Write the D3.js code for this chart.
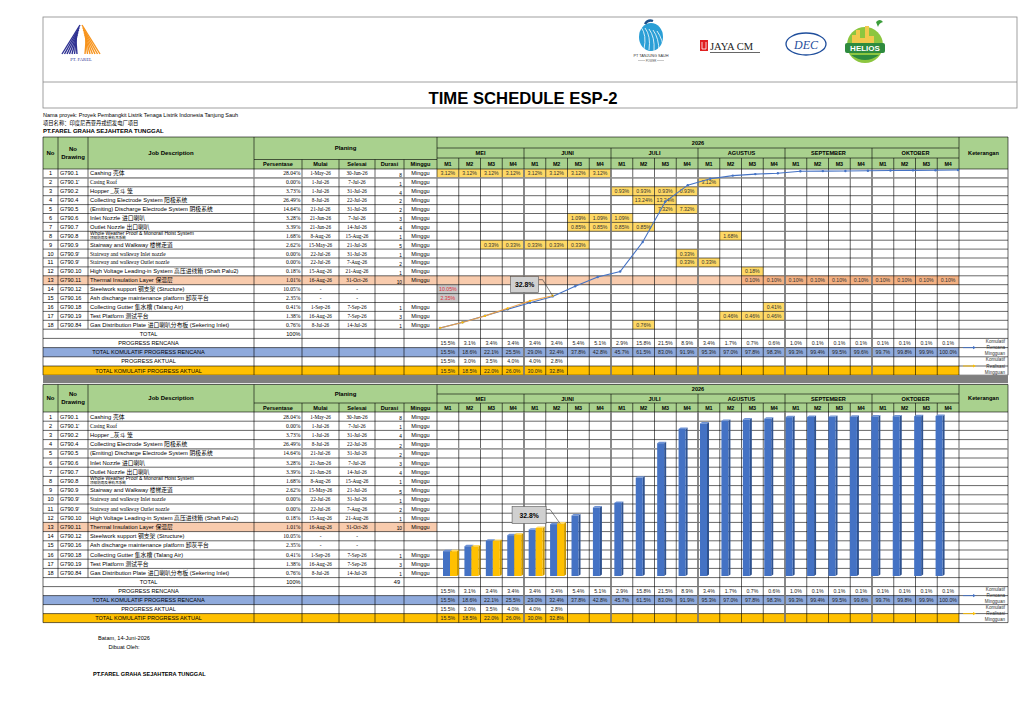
<!DOCTYPE html>
<html>
<head>
<meta charset="utf-8">
<script src="https://cdn.jsdelivr.net/npm/d3@7"></script>
<style>
  body { margin: 0; background: #fff; }
  svg { display: block; }
</style>
</head>
<body>
<div id="chart"></div>
<script>
// ---- data ----
const months = ["MEI", "JUNI", "JULI", "AGUSTUS", "SEPTEMBER", "OKTOBER"];
const weekLabels = ["M1", "M2", "M3", "M4"];
const weeks = months.flatMap(m => weekLabels.map(w => m + " " + w));

const drawingNo = ["G790.1", "G790.1'", "G790.2", "G790.4", "G790.5", "G790.6", "G790.7", "G790.8", "G790.9",
  "G790.9'", "G790.9'", "G790.10", "G790.11", "G790.12", "G790.16", "G790.18", "G790.19", "G790.84"];
const jobDesc = [
  "Cashing 壳体",
  "Casing Roof",
  "Hopper _灰斗 笼",
  "Collecting Electrode System 阳极系统",
  "(Emiting) Discharge Electrode System 阴极系统",
  "Inlet Nozzle 进口喇叭",
  "Outlet Nozzle 出口喇叭",
  "Whole Weather Proof & Monorail Hoist System\n顶部防雨及单轨吊系统",
  "Stairway and Walkway 楼梯走道",
  "Stairway and walkway Inlet nozzle",
  "Stairway and walkway Outlet nozzle",
  "High Voltage Leading-in System 高压进线箱 (Shaft Palu2)",
  "Thermal Insulation Layer 保温层",
  "Steelwork support 钢支架 (Structure)",
  "Ash discharge maintenance platform 卸灰平台",
  "Collecting Gutter 集水槽 (Talang Air)",
  "Test Platform 测试平台",
  "Gas Distribution Plate 进口喇叭分布板 (Sekering Inlet)"
];
const persentase = ["28.04%", "0.00%", "3.73%", "26.49%", "14.64%", "3.28%", "3.39%", "1.68%", "2.62%",
  "0.00%", "0.00%", "0.18%", "1.01%", "10.05%", "2.35%", "0.41%", "1.38%", "0.76%"];
const mulai = ["1-May-26", "1-Jul-26", "1-Jul-26", "8-Jul-26", "21-Jul-26", "21-Jun-26", "21-Jun-26", "8-Aug-26",
  "15-May-26", "22-Jul-26", "22-Jul-26", "15-Aug-26", "16-Aug-26", "-", "-", "1-Sep-26", "16-Aug-26", "8-Jul-26"];
const selesai = ["30-Jun-26", "7-Jul-26", "31-Jul-26", "22-Jul-26", "31-Jul-26", "7-Jul-26", "14-Jul-26", "15-Aug-26",
  "21-Jul-26", "31-Jul-26", "7-Aug-26", "21-Aug-26", "31-Oct-26", "-", "-", "7-Sep-26", "7-Sep-26", "14-Jul-26"];
const durasi = [8, 1, 4, 2, 2, 3, 4, 1, 5, 1, 2, 1, 10, "", "", 1, 3, 1];
const minggu = ["Minggu", "Minggu", "Minggu", "Minggu", "Minggu", "Minggu", "Minggu", "Minggu", "Minggu",
  "Minggu", "Minggu", "Minggu", "Minggu", "", "", "Minggu", "Minggu", "Minggu"];

// week index (0 = MEI M1) of every filled bar cell, per job row
const ganttWeeks = [
  [0, 1, 2, 3, 4, 5, 6, 7], [12], [8, 9, 10, 11], [9, 10], [10, 11], [6, 7, 8], [6, 7, 8, 9], [13],
  [2, 3, 4, 5, 6], [11], [11, 12], [14], [14, 15, 16, 17, 18, 19, 20, 21, 22, 23], [0], [0], [15], [13, 14, 15], [9]
];
const ganttValue = ["3.12%", "3.12%", "0.93%", "13.24%", "7.32%", "1.09%", "0.85%", "1.68%", "0.33%",
  "0.33%", "0.33%", "0.18%", "0.10%", "10.05%", "2.35%", "0.41%", "0.46%", "0.76%"];

const summaryLabels = ["TOTAL", "PROGRESS RENCANA", "TOTAL KOMULATIF PROGRESS RENCANA", "PROGRESS AKTUAL",
  "TOTAL KOMULATIF PROGRESS AKTUAL"];
const progressRencana = [15.5, 3.1, 3.4, 3.4, 3.4, 3.4, 5.4, 5.1, 2.9, 15.8, 21.5, 8.9, 3.4, 1.7, 0.7, 0.6, 1.0,
  0.1, 0.1, 0.1, 0.1, 0.1, 0.1, 0.1];
const kumulatifRencana = [15.5, 18.6, 22.1, 25.5, 29.0, 32.4, 37.8, 42.8, 45.7, 61.5, 83.0, 91.9, 95.3, 97.0, 97.8,
  98.3, 99.3, 99.4, 99.5, 99.6, 99.7, 99.8, 99.9, 100.0];
const progressAktual = [15.5, 3.0, 3.5, 4.0, 4.0, 2.8];
const kumulatifAktual = [15.5, 18.5, 22.0, 26.0, 30.0, 32.8];

// ---- setup ----
const SANS = "'Liberation Sans', Arial, 'Noto Sans CJK SC', sans-serif";
const SERIF = "'Liberation Serif', 'Times New Roman', 'Noto Sans CJK SC', serif";
const GREEN = "#a9d18e", ORANGE = "#f8cbad", BLUE = "#8faadc", GOLD = "#ffc000", CELL = "#ffd966";
const colX = [43, 58, 88, 254, 302, 339, 375, 404, 437];
const X_W0 = 437, X_W1 = 959, X_END = 1008;
const serifRows = new Set([1, 9, 10]);
const pct = d3.format(".1f");

const svg = d3.select("#chart").append("svg")
  .attr("width", 1024).attr("height", 724)
  .style("font-family", SANS);

const x = d3.scaleBand().domain(weeks).range([X_W0, X_W1]);

function txt(g, tx, ty, s, o = {}) {
  return g.append("text")
    .attr("x", tx).attr("y", ty).text(s)
    .attr("font-size", o.size || 6)
    .attr("font-weight", o.bold ? "bold" : null)
    .attr("font-style", o.italic ? "italic" : null)
    .attr("text-anchor", o.anchor || "start")
    .attr("fill", o.fill || "#000")
    .attr("font-family", o.font || SANS)
    .attr("dominant-baseline", "central");
}
function ln(g, x1, y1, x2, y2, c, w) {
  g.append("line").attr("x1", x1).attr("y1", y1).attr("x2", x2).attr("y2", y2)
    .attr("stroke", c || "#000").attr("stroke-width", w || 0.6);
}

// ---- page header with logos ----
function drawHeader() {
  const g = svg.append("g");
  g.append("rect").attr("x", 43).attr("y", 17).attr("width", 974).attr("height", 91)
    .attr("fill", "none").attr("stroke", "#888").attr("stroke-width", 0.8);
  ln(g, 43, 82, 1017, 82, "#888", 0.8);
  txt(g, 523, 98, "TIME SCHEDULE ESP-2", { size: 17, bold: true, anchor: "middle",
    font: "'Liberation Sans Narrow', 'Liberation Sans', Arial, sans-serif" })
    .attr("textLength", 189).attr("lengthAdjust", "spacingAndGlyphs");

  // PT. FAREL mark
  const f = g.append("g");
  for (let i = 0; i < 7; i++) {
    f.append("line").attr("x1", 80 - i * 0.7).attr("y1", 25 + i * 2.4)
      .attr("x2", 62 + i * 2.5).attr("y2", 54)
      .attr("stroke", "#2e3192").attr("stroke-width", 1.4);
    f.append("line").attr("x1", 82 + i * 0.7).attr("y1", 25 + i * 2.4)
      .attr("x2", 100 - i * 2.5).attr("y2", 54)
      .attr("stroke", "#f7941d").attr("stroke-width", 1.4);
  }
  txt(f, 81, 59, "PT. FAREL", { size: 4.6, anchor: "middle", font: SERIF, fill: "#2e3192" });

  // PT Tanjung Sauh
  const t = g.append("g");
  t.append("ellipse").attr("cx", 651).attr("cy", 37).attr("rx", 12).attr("ry", 14).attr("fill", "#2a9fd6");
  for (let i = 0; i < 5; i++) {
    t.append("path").attr("d", `M${641 + i * 4},${27 + i} q6,8 ${3 + i},22`)
      .attr("fill", "none").attr("stroke", "#fff").attr("stroke-width", 0.8);
  }
  t.append("path").attr("d", "M645,24 q3,-5 8,-3").attr("fill", "none").attr("stroke", "#1a4f8a").attr("stroke-width", 2.4);
  txt(t, 651, 56, "PT TANJUNG SAUH", { size: 3.8, anchor: "middle", fill: "#333" });
  txt(t, 651, 60.5, "POWER", { size: 2.8, anchor: "middle", fill: "#555" });
  ln(t, 638, 60.5, 645, 60.5, "#777", 0.4);
  ln(t, 657, 60.5, 664, 60.5, "#777", 0.4);

  // JAYA CM
  const j = g.append("g");
  j.append("rect").attr("x", 700).attr("y", 40).attr("width", 8).attr("height", 11).attr("fill", "#e02020");
  j.append("path").attr("d", "M702,42 v7 h4 v-7").attr("fill", "none").attr("stroke", "#fff").attr("stroke-width", 0.8);
  txt(j, 710, 46, "JAYA CM", { size: 10.5, font: SERIF, fill: "#222" });
  ln(j, 710, 52.5, 760, 52.5, "#666", 1);

  // DEC
  const d = g.append("g");
  d.append("ellipse").attr("cx", 806).attr("cy", 44).attr("rx", 20).attr("ry", 11)
    .attr("fill", "none").attr("stroke", "#1f4e9c").attr("stroke-width", 1.3);
  txt(d, 806, 44.5, "DEC", { size: 12, anchor: "middle", font: SERIF, italic: true, fill: "#1f4e9c" });

  // HELIOS
  const h = g.append("g");
  h.append("circle").attr("cx", 865).attr("cy", 45).attr("r", 18).attr("fill", "#8cc63f");
  h.append("path").attr("d", "M852,45 v-10 h4 v-5 h4 v8 h5 v-12 h4 v10 h5 v9 z").attr("fill", "#f2c94c");
  h.append("path").attr("d", "M876,22 q4,-4 7,0 q-4,1 -5,5 z").attr("fill", "#3a9d3a");
  h.append("rect").attr("x", 845).attr("y", 43).attr("width", 40).attr("height", 10).attr("rx", 2).attr("fill", "#2e8b3e");
  txt(h, 865, 48.3, "HELIOS", { size: 8, bold: true, anchor: "middle", fill: "#fff" });
  h.append("path").attr("d", "M851,55 q14,10 28,0").attr("fill", "#2e8b3e");

  // project lines
  txt(g, 43, 115, "Nama proyek: Proyek Pembangkit Listrik Tenaga Listrik Indonesia Tanjung Sauh", { size: 5.5 });
  txt(g, 43, 123, "项目名称：印度尼西亚丹戎绍发电厂项目", { size: 5.3 });
  txt(g, 43, 131, "PT.FAREL GRAHA SEJAHTERA TUNGGAL", { size: 6, bold: true });
}

// ---- one schedule table ----
function drawTable(cfg) {
  const g = svg.append("g");
  const t = cfg.top;
  const yYear = t + cfg.yearH, yMonth = yYear + cfg.monthH, hb = yMonth + cfg.wkH;
  const yPlan = cfg.planBot;
  const rowY = i => hb + i * cfg.rowH;
  const dataBot = rowY(18);
  const sumY = k => dataBot + k * cfg.sumH;
  const bot = sumY(5);

  // fills
  g.append("rect").attr("x", 43).attr("y", t).attr("width", X_END - 43).attr("height", hb - t).attr("fill", GREEN);
  g.append("rect").attr("x", 43).attr("y", rowY(12)).attr("width", cfg.orangeTo - 43).attr("height", cfg.rowH).attr("fill", ORANGE);
  g.append("rect").attr("x", 43).attr("y", sumY(2)).attr("width", X_W1 - 43).attr("height", cfg.sumH).attr("fill", BLUE);
  g.append("rect").attr("x", 43).attr("y", sumY(4)).attr("width", X_W1 - 43).attr("height", cfg.sumH).attr("fill", GOLD);

  if (cfg.gantt) {
    ganttWeeks.forEach((ws, i) => ws.forEach(k => {
      const fill = i === 12 ? "#f4b183" : (i === 13 || i === 14) ? "#c9c9c9" : CELL;
      g.append("rect").attr("x", x(weeks[k])).attr("y", rowY(i))
        .attr("width", x.bandwidth()).attr("height", cfg.rowH).attr("fill", fill);
    }));
  }

  // grid
  const grid = g.append("g");
  ln(grid, 43, t, X_END, t);
  ln(grid, colX[3], yPlan, X_W0, yPlan);
  ln(grid, X_W0, yYear, X_W1, yYear);
  ln(grid, X_W0, yMonth, X_W1, yMonth);
  for (let i = 0; i <= 18; i++) ln(grid, 43, rowY(i), X_END, rowY(i));
  for (let k = 1; k <= 5; k++) ln(grid, 43, sumY(k), X_END, sumY(k));
  ln(grid, 43, t, 43, bot);
  ln(grid, colX[1], t, colX[1], dataBot);
  ln(grid, colX[2], t, colX[2], dataBot);
  ln(grid, colX[3], t, colX[3], bot);
  [4, 5, 6, 7].forEach(c => ln(grid, colX[c], yPlan, colX[c], bot));
  ln(grid, X_W0, t, X_W0, bot);
  ln(grid, X_W1, t, X_W1, bot);
  ln(grid, X_END, t, X_END, bot);
  weeks.forEach((w, k) => {
    if (k > 0) ln(grid, x(w), k % 4 === 0 ? yYear : yMonth, x(w), bot);
  });
  months.forEach((m, mi) => {
    if (mi > 0) ln(grid, x(weeks[mi * 4]), hb, x(weeks[mi * 4]), bot, "#7f7f7f", 1.6);
  });
  ln(grid, 43, cfg.grayAt(rowY), X_END, cfg.grayAt(rowY), "#9a9a9a", 1.4);

  // header text
  const hm = (t + hb) / 2;
  txt(g, 50.5, hm, "No", { bold: true, anchor: "middle" });
  txt(g, 73, hm - 4, "No", { bold: true, anchor: "middle" });
  txt(g, 73, hm + 3.5, "Drawing", { bold: true, anchor: "middle" });
  txt(g, 171, hm, "Job Description", { bold: true, anchor: "middle" });
  txt(g, 345.5, (t + yPlan) / 2, "Planing", { bold: true, anchor: "middle" });
  ["Persentase", "Mulai", "Selesai", "Durasi", "Minggu"].forEach((s, c) =>
    txt(g, (colX[3 + c] + colX[4 + c]) / 2, (yPlan + hb) / 2, s, { bold: true, anchor: "middle", size: 5.6 }));
  txt(g, (X_W0 + X_W1) / 2, (t + yYear) / 2, "2026", { bold: true, anchor: "middle", size: 5.6 });
  months.forEach((m, mi) => {
    const x0 = x(weeks[mi * 4]), x1 = x(weeks[mi * 4 + 3]) + x.bandwidth();
    txt(g, (x0 + x1) / 2, (yYear + yMonth) / 2, m, { bold: true, anchor: "middle", size: 5.6 });
  });
  weeks.forEach((w, k) =>
    txt(g, x(w) + x.bandwidth() / 2, (yMonth + hb) / 2, weekLabels[k % 4], { bold: true, anchor: "middle", size: 5.4 }));
  txt(g, (X_W1 + X_END) / 2, hm, "Keterangan", { bold: true, anchor: "middle", size: 5.6 });

  // job rows
  drawingNo.forEach((dn, i) => {
    const cy = rowY(i) + cfg.rowH / 2;
    const fnt = serifRows.has(i) ? SERIF : SANS;
    txt(g, 50.5, cy, i + 1, { anchor: "middle", size: 5.6 });
    txt(g, 60, cy, dn, { size: 5.6 });
    const parts = jobDesc[i].split("\n");
    if (parts.length > 1) {
      txt(g, 90, cy - 2.6, parts[0], { size: 5 });
      txt(g, 90, cy + 2.4, parts[1], { size: 3.6 });
    } else {
      txt(g, 90, cy, parts[0], { size: serifRows.has(i) ? 5.4 : 5.8, font: fnt });
    }
    txt(g, 300.5, cy, persentase[i], { anchor: "end", size: 5.6, font: SERIF });
    txt(g, 320.5, cy, mulai[i], { anchor: "middle", size: 5.2, font: SERIF });
    txt(g, 357, cy, selesai[i], { anchor: "middle", size: 5.2, font: SERIF });
    txt(g, 402, cy + 1.8, durasi[i], { anchor: "end", size: 4.8 });
    txt(g, 420.5, cy, minggu[i], { anchor: "middle", size: 5.6 });
    if (cfg.gantt) {
      ganttWeeks[i].forEach(k => {
        const red = i === 13 || i === 14;
        txt(g, x(weeks[k]) + x.bandwidth() / 2, cy, ganttValue[i],
          { anchor: "middle", size: 5.2, fill: red ? "#e0303a" : "#333" });
      });
    }
  });

  // summary rows
  summaryLabels.forEach((s, k) => txt(g, 148.5, sumY(k) + cfg.sumH / 2, s, { anchor: "middle", size: 5.6 }));
  txt(g, 300.5, sumY(0) + cfg.sumH / 2, "100%", { anchor: "end", size: 5.6 });
  if (cfg.totalDur) txt(g, 400, sumY(0) + cfg.sumH / 2, cfg.totalDur, { anchor: "end", size: 5.6 });
  [progressRencana, kumulatifRencana, progressAktual, kumulatifAktual].forEach((arr, k) => {
    arr.forEach((v, wi) => txt(g, x(weeks[wi]) + x.bandwidth() / 2, sumY(k + 1) + cfg.sumH / 2, pct(v) + "%",
      { anchor: "middle", size: 5.2, fill: "#222" }));
  });

  // keterangan legend
  const lg = g.append("g");
  const arrow = (ay, c) => {
    ln(lg, 963, ay, 973, ay, c, 0.9);
    lg.append("path").attr("d", `M973,${ay - 1.6} L976,${ay} L973,${ay + 1.6} z`).attr("fill", c);
  };
  arrow(sumY(2), "#4472c4");
  arrow(sumY(4), "#ffc000");
  const step = (2 * cfg.sumH) / 3;
  ["Komulatif", "Rencana", "Mingguan"].forEach((s, n) =>
    txt(lg, 1005, sumY(1) + step / 2 + n * step, s, { anchor: "end", size: 4.6, fill: "#333" }));
  ["Komulatif", "Realisasi", "Mingguan"].forEach((s, n) =>
    txt(lg, 1005, sumY(3) + step / 2 + n * step, s, { anchor: "end", size: 4.6, fill: "#333" }));

  return { bot };
}

drawHeader();

const upper = drawTable({
  top: 137, yearH: 11, monthH: 10, wkH: 11, planBot: 159.5,
  rowH: 8.9, sumH: 9.2, orangeTo: X_W1, gantt: true,
  grayAt: rowY => rowY(1)
});

// gray band between the two tables
svg.append("rect").attr("x", 43).attr("y", upper.bot).attr("width", X_END - 43).attr("height", 8).attr("fill", "#7f7f7f");

drawTable({
  top: 384.5, yearH: 9.5, monthH: 9, wkH: 9, planBot: 403,
  rowH: 9.2, sumH: 9, orangeTo: X_W0, gantt: false, totalDur: 49,
  grayAt: rowY => rowY(4)
});

// ---- S-curve over the upper table ----
const xLine = d3.scalePoint().domain(weeks).range([440, 958]);
const yLine = d3.scaleLinear().domain([0, 100]).range([357, 170]);
const line = d3.line().x((d, i) => xLine(weeks[i])).y(d => yLine(d));
const sc = svg.append("g");
sc.append("path").attr("d", line(kumulatifRencana)).attr("fill", "none")
  .attr("stroke", "#4472c4").attr("stroke-width", 1.1);
sc.selectAll("circle.plan").data(kumulatifRencana).join("circle").attr("class", "plan")
  .attr("cx", (d, i) => xLine(weeks[i])).attr("cy", d => yLine(d)).attr("r", 1.2).attr("fill", "#4472c4");
sc.append("path").attr("d", line(kumulatifAktual)).attr("fill", "none")
  .attr("stroke", "#f0a040").attr("stroke-width", 1.1).attr("opacity", 0.9);
sc.selectAll("circle.act").data(kumulatifAktual).join("circle").attr("class", "act")
  .attr("cx", (d, i) => xLine(weeks[i])).attr("cy", d => yLine(d)).attr("r", 1.1).attr("fill", "#ffc000");

function callout(g, px, py, bx, by, bw, bh, s) {
  g.append("path").attr("d", `M${bx + bw},${by + 3} L${bx + bw + 4},${by + 3} L${px},${py}`)
    .attr("fill", "none").attr("stroke", "#333").attr("stroke-width", 0.6);
  g.append("rect").attr("x", bx).attr("y", by).attr("width", bw).attr("height", bh)
    .attr("fill", "#d0d0d0").attr("stroke", "#555").attr("stroke-width", 0.6);
  txt(g, bx + bw / 2, by + bh / 2, s, { anchor: "middle", size: 6.8, bold: true });
}
{
  const last = kumulatifAktual.length - 1;
  const px = xLine(weeks[last]), py = yLine(kumulatifAktual[last]);
  callout(sc, px, py, px - 42, py - 19, 28, 16, pct(kumulatifAktual[last]) + "%");
}

// ---- 3D columns over the lower table ----
const xBar = d3.scaleBand().domain(weeks).range([437, 951]);
const yBar = d3.scaleLinear().domain([0, 100]).range([576, 416]);
const bw = 7, dep = 2;
function bar3d(g, bx, v, front, side, top) {
  const y0 = yBar(0), y1 = yBar(v);
  g.append("path").attr("d", `M${bx + bw},${y1} l${dep},${-dep * 0.7} V${y0 - dep * 0.7} l${-dep},${dep * 0.7} z`).attr("fill", side);
  g.append("path").attr("d", `M${bx},${y1} l${dep},${-dep * 0.7} h${bw} l${-dep},${dep * 0.7} z`).attr("fill", top);
  g.append("rect").attr("x", bx).attr("y", y1).attr("width", bw).attr("height", y0 - y1).attr("fill", front);
}
const bars = svg.append("g");
kumulatifRencana.forEach((v, i) => bar3d(bars, xBar(weeks[i]) + 6, v, "#4472c4", "#2f528f", "#6f93d6"));
kumulatifAktual.forEach((v, i) => bar3d(bars, xBar(weeks[i]) + 6 + bw, v, "#ffc000", "#c99700", "#ffd966"));
{
  const last = kumulatifAktual.length - 1;
  const px = xBar(weeks[last]) + 6 + bw + 3, py = yBar(kumulatifAktual[last]);
  callout(bars, px, py, px - 48, py - 17, 34, 17, pct(kumulatifAktual[last]) + "%");
}

// ---- footer ----
const ft = svg.append("g");
txt(ft, 124, 638, "Batam, 14-Juni-2026", { anchor: "middle", size: 5.6 });
txt(ft, 124, 647, "Dibuat Oleh:", { anchor: "middle", size: 5.6 });
txt(ft, 93, 674, "PT.FAREL GRAHA SEJAHTERA TUNGGAL", { size: 5.6, bold: true });
</script>
</body>
</html>
